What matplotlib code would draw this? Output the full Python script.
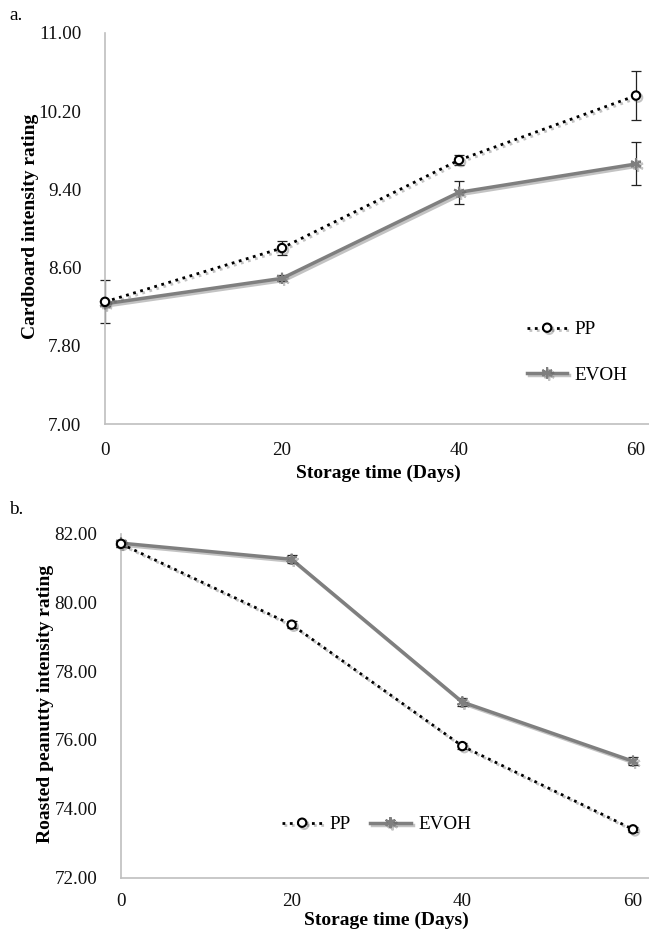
import matplotlib
matplotlib.use("Agg")
import matplotlib.pyplot as plt
import matplotlib.patheffects as pe
from matplotlib.ticker import FormatStrFormatter

plt.rcParams['font.family'] = ['Liberation Serif', 'DejaVu Serif']

days = [0, 20, 40, 60]
day_ticks = [0, 20, 40, 60]

# Panel a: Cardboard intensity
a_pp = [8.25, 8.80, 9.70, 10.36]
a_pp_err = [0.22, 0.07, 0.05, 0.25]
a_evoh = [8.23, 8.49, 9.37, 9.66]
a_evoh_err = [0.02, 0.03, 0.12, 0.22]
a_yticks = [7.00, 7.80, 8.60, 9.40, 10.20, 11.00]

# Panel b: Roasted peanutty intensity
b_pp = [81.70, 79.35, 75.82, 73.40]
b_pp_err = [0.08, 0.10, 0.08, 0.08]
b_evoh = [81.72, 81.25, 77.10, 75.38]
b_evoh_err = [0.10, 0.12, 0.12, 0.12]
b_yticks = [72.00, 74.00, 76.00, 78.00, 80.00, 82.00]

W, H = 649, 930
fig = plt.figure(figsize=(W / 100, H / 100), dpi=100)


def px_axes(left, top, right, bottom):
    return fig.add_axes([left / W, 1 - bottom / H, (right - left) / W, (bottom - top) / H])


shadow = [pe.SimpleLineShadow(offset=(1.5, -1.5), shadow_color='#555555', alpha=0.35), pe.Normal()]
spine_color = '#BFBFBF'
fs = 13.8


def draw(ax, pp, pp_err, evoh, evoh_err, yticks, xmax, xpad):
    ax.errorbar(days, pp, yerr=pp_err, fmt='none', ecolor='#222222', elinewidth=0.9,
                capsize=3.5, capthick=0.9, zorder=2, clip_on=False)
    ax.errorbar(days, evoh, yerr=evoh_err, fmt='none', ecolor='#222222', elinewidth=0.9,
                capsize=3.5, capthick=0.9, zorder=2, clip_on=False)
    l1, = ax.plot(days, pp, linestyle=':', color='black', linewidth=2.0, marker='o',
                  markersize=6, markerfacecolor='white', markeredgecolor='black',
                  markeredgewidth=1.5, label='PP', zorder=4, clip_on=False,
                  path_effects=shadow)
    l2, = ax.plot(days, evoh, linestyle='-', color='#7F7F7F', linewidth=2.5,
                  marker=(6, 2, 0), markersize=8, markeredgecolor='#7F7F7F',
                  markeredgewidth=1.5, label='EVOH', zorder=3, clip_on=False,
                  path_effects=shadow)
    ax.set_xlim(0, xmax)
    ax.set_ylim(yticks[0], yticks[-1])
    ax.set_xticks(day_ticks)
    ax.set_yticks(yticks)
    ax.yaxis.set_major_formatter(FormatStrFormatter('%.2f'))
    for s in ['top', 'right']:
        ax.spines[s].set_visible(False)
    for s in ['left', 'bottom']:
        ax.spines[s].set_color(spine_color)
        ax.spines[s].set_linewidth(1.2)
    ax.tick_params(axis='both', length=0, labelsize=fs, colors='#111111')
    ax.tick_params(axis='y', pad=17)
    ax.tick_params(axis='x', pad=xpad)
    return l1, l2


# Panel a
ax1 = px_axes(105, 33, 649, 424)
h = draw(ax1, a_pp, a_pp_err, a_evoh, a_evoh_err, a_yticks, 60 * 544 / 531, 13)
ax1.legend(handles=h, loc='upper left', bbox_to_anchor=(527 / W, 1 - 321 / H),
           bbox_transform=fig.transFigure, frameon=False, fontsize=fs,
           handlelength=2.1, handletextpad=0.4, labelspacing=1.45,
           borderpad=0, borderaxespad=0, numpoints=1)
fig.text(31 / W, 1 - 226 / H, 'Cardboard intensity rating', rotation=90,
         ha='center', va='center', fontsize=14, fontweight='bold')
fig.text(378 / W, 1 - 473 / H, 'Storage time (Days)', ha='center', va='center',
         fontsize=14, fontweight='bold')
fig.text(16 / W, 1 - 15 / H, 'a.', ha='center', va='center', fontsize=13.8)

# Panel b
ax2 = px_axes(121, 533.5, 649, 877.5)
h = draw(ax2, b_pp, b_pp_err, b_evoh, b_evoh_err, b_yticks, 60 * 528 / 512, 11)
ax2.legend(handles=h, loc='upper left', bbox_to_anchor=(282 / W, 1 - 816 / H),
           bbox_transform=fig.transFigure, frameon=False, fontsize=fs, ncol=2,
           handlelength=2.1, handletextpad=0.4, columnspacing=1.0,
           borderpad=0, borderaxespad=0, numpoints=1)
fig.text(46 / W, 1 - 704 / H, 'Roasted peanutty intensity rating', rotation=90,
         ha='center', va='center', fontsize=14, fontweight='bold')
fig.text(386 / W, 1 - 920 / H, 'Storage time (Days)', ha='center', va='center',
         fontsize=14, fontweight='bold')
fig.text(16 / W, 1 - 510 / H, 'b.', ha='center', va='center', fontsize=13.8)

fig.savefig('out.png', dpi=100)
